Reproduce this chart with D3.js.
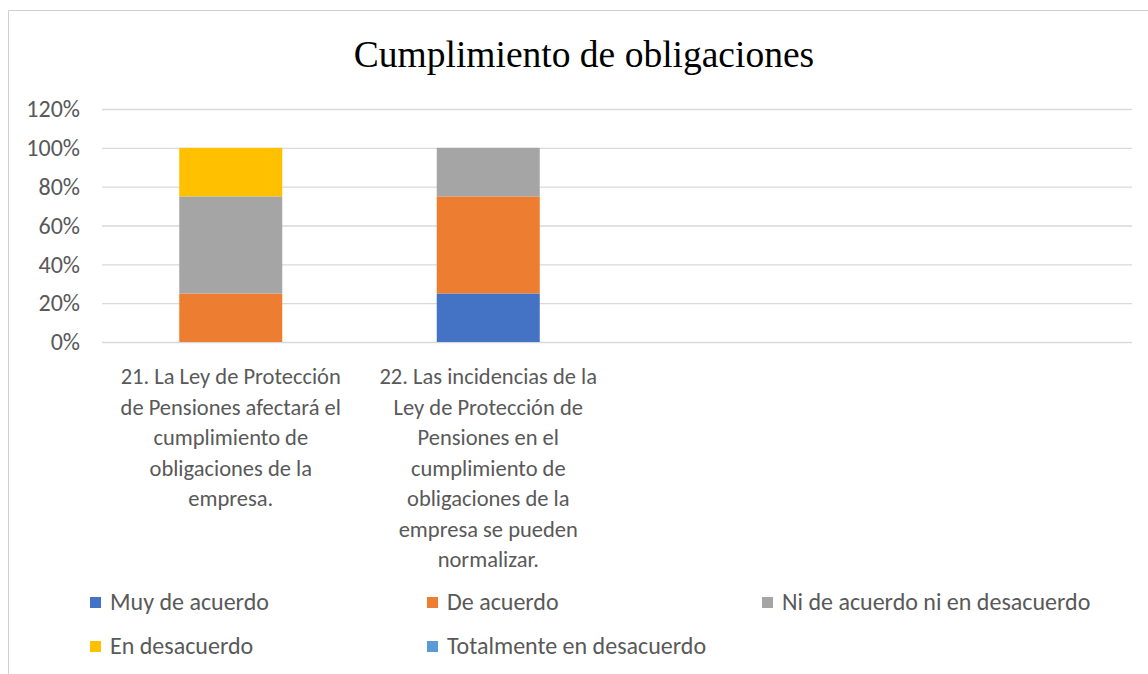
<!DOCTYPE html>
<html>
<head>
<meta charset="utf-8">
<script src="https://cdn.jsdelivr.net/npm/d3@7"></script>
<style>
  body { margin: 0; background: #fff; }
  svg { display: block; }
  text { font-family: Carlito, Calibri, Lato, sans-serif; }
</style>
</head>
<body>
<script>
var svgWidth = 1148;
var svgHeight = 674;

// chart data
var title = "Cumplimiento de obligaciones";
var categories = [
  "21. La Ley de Protección\nde Pensiones afectará el\ncumplimiento de\nobligaciones de la\nempresa.",
  "22. Las incidencias de la\nLey de Protección de\nPensiones en el\ncumplimiento de\nobligaciones de la\nempresa se pueden\nnormalizar.",
  "",
  ""
];
var seriesNames = ["Muy de acuerdo", "De acuerdo", "Ni de acuerdo ni en desacuerdo",
                   "En desacuerdo", "Totalmente en desacuerdo"];
var muyDeAcuerdo   = [0,    0.25, 0, 0];
var deAcuerdo      = [0.25, 0.50, 0, 0];
var niDeAcuerdo    = [0.50, 0.25, 0, 0];
var enDesacuerdo   = [0.25, 0,    0, 0];
var totalmenteDes  = [0,    0,    0, 0];
var seriesValues = [muyDeAcuerdo, deAcuerdo, niDeAcuerdo, enDesacuerdo, totalmenteDes];
var colors = ["#4472C4", "#ED7D31", "#A5A5A5", "#FFC000", "#5B9BD5"];
var yTicks = [0, 0.2, 0.4, 0.6, 0.8, 1.0, 1.2];

var plot = {left: 102, right: 1132, top: 109, bottom: 342};

var svg = d3.select("body")
            .append("svg")
            .attr("width", svgWidth)
            .attr("height", svgHeight);

// outer chart frame (only left and top edges are visible)
svg.append("path")
   .attr("d", "M8.5,674 V10.5 H1148")
   .attr("fill", "none")
   .attr("stroke", "#d0d0d0")
   .attr("stroke-width", 1);

svg.append("text")
   .attr("x", 584)
   .attr("y", 67)
   .attr("text-anchor", "middle")
   .style("font-family", "'Liberation Serif', 'Times New Roman', serif")
   .style("font-size", "37.5px")
   .attr("fill", "#000")
   .text(title);

// scales
var xScale = d3.scaleBand()
               .domain(categories.map((d, i) => i))
               .range([plot.left, plot.right])
               .paddingInner(0.6)
               .paddingOuter(0.3);

var yScale = d3.scaleLinear()
               .domain([0, 1.2])
               .range([plot.bottom, plot.top]);

// gridlines
var leftAxis = d3.axisLeft(yScale)
                 .tickValues(yTicks)
                 .tickFormat(d3.format(".0%"))
                 .tickSize(-(plot.right - plot.left))
                 .tickPadding(22);

var yAxis = svg.append("g")
               .attr("transform", `translate(${plot.left}, 0)`)
               .call(leftAxis);
yAxis.select(".domain").remove();
yAxis.selectAll(".tick line").attr("stroke", "#d9d9d9").attr("stroke-width", 1.3);
yAxis.selectAll(".tick text")
     .attr("fill", "#595959")
     .style("font-size", "24px");

// stacked bars
var table = categories.map(function(c, i) {
  var row = {cat: i};
  seriesNames.forEach(function(s, j) { row[s] = seriesValues[j][i]; });
  return row;
});
var stacked = d3.stack().keys(seriesNames)(table);

svg.append("g")
   .selectAll("g")
   .data(stacked)
   .enter()
   .append("g")
   .attr("fill", (d, i) => colors[i])
   .selectAll("rect")
   .data(d => d.filter(p => p[1] - p[0] > 0))
   .enter()
   .append("rect")
   .attr("x", d => xScale(d.data.cat))
   .attr("y", d => yScale(d[1]))
   .attr("width", xScale.bandwidth())
   .attr("height", d => yScale(d[0]) - yScale(d[1]));

// category labels
var lineHeight = 30.5;
var catLabels = svg.append("g")
   .selectAll("text")
   .data(categories)
   .enter()
   .append("text")
   .attr("text-anchor", "middle")
   .attr("fill", "#595959")
   .style("font-size", "22.5px")
   .attr("x", (d, i) => xScale(i) + xScale.bandwidth() / 2)
   .attr("y", 384);

catLabels.each(function(d) {
  var t = d3.select(this);
  var x = t.attr("x");
  d.split("\n").forEach(function(line, k) {
    t.append("tspan")
     .attr("x", x)
     .attr("y", 384 + k * lineHeight)
     .text(line);
  });
});

// legend
var legendCols = [90, 427, 762];
var legendRows = [602, 646];
var legend = svg.append("g")
                .selectAll("g")
                .data(seriesNames)
                .enter()
                .append("g")
                .attr("transform", (d, i) =>
                      `translate(${legendCols[i % 3]}, ${legendRows[Math.floor(i / 3)]})`);

legend.append("rect")
      .attr("x", 0)
      .attr("y", -5)
      .attr("width", 11)
      .attr("height", 11)
      .attr("fill", (d, i) => colors[i]);

legend.append("text")
      .attr("x", 20)
      .attr("y", 8)
      .attr("fill", "#595959")
      .style("font-size", "24px")
      .text(d => d);
</script>
</body>
</html>
